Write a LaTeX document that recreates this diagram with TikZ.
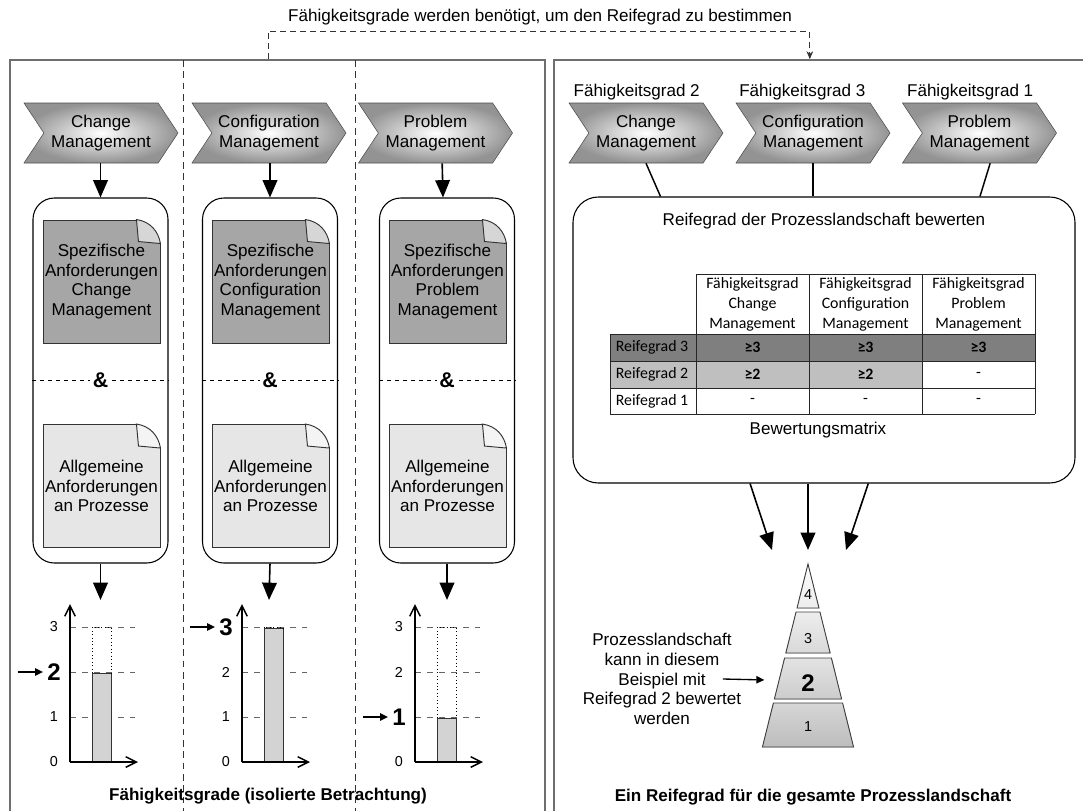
\documentclass[tikz,border=0pt]{standalone}
\usepackage{fontspec}
\setmainfont{Liberation Sans}
\newfontfamily\tabfont{Carlito}
\usepackage{tikz}
\usetikzlibrary{positioning,calc,arrows.meta,shapes.symbols}

\definecolor{framegray}{HTML}{6E6E6E}
\definecolor{docdark}{HTML}{A6A6A6}
\definecolor{doclight}{HTML}{E6E6E6}
\definecolor{folddark}{HTML}{D6D6D6}
\definecolor{foldlight}{HTML}{F4F4F4}
\definecolor{barfill}{HTML}{D3D3D3}
\definecolor{rowdark}{HTML}{7F7F7F}
\definecolor{rowlight}{HTML}{BFBFBF}

\tikzset{
  txt/.style={font=\fontsize{12.8}{14.8}\selectfont, align=center, inner sep=0pt},
  panel/.style={draw=framegray, line width=1.2pt},
  chevron/.style={txt, signal, signal to=east, signal from=west, signal pointer angle=113,
    draw=black!70, inner color=white, outer color=gray!85,
    minimum width=115.5pt, minimum height=45pt},
  container/.style={draw, line width=0.8pt, rounded corners=16pt,
    minimum width=101.25pt, minimum height=273.75pt},
  doc/.style={txt, draw=black!80, line width=0.7pt, minimum width=87.75pt, minimum height=92.25pt},
  amp/.style={fill=white, inner sep=2pt, font=\bfseries\fontsize{16}{16}\selectfont},
  flow/.style={line width=1.2pt, -{Triangle[length=13pt,width=11pt]}},
  flowsm/.style={line width=1pt, -{Triangle[length=6pt,width=5.5pt]}, shorten >=2pt},
  link/.style={line width=1.1pt},
  hint/.style={draw=black!80, line width=0.7pt, dash pattern=on 4.5pt off 3pt,
    -{Stealth[length=6pt,width=5pt]}},
  sepline/.style={draw=black!80, line width=0.7pt, dash pattern=on 5pt off 3.5pt},
  chartgrid/.style={draw=black!60, line width=0.6pt, dash pattern=on 4.5pt off 4.5pt},
  chartaxis/.style={line width=1.1pt, -{Straight Barb[length=8pt,width=8pt]}},
  ticklbl/.style={font=\fontsize{10.8}{12}\selectfont, inner sep=0pt},
  bignum/.style={font=\bfseries\fontsize{18}{18}\selectfont, inner sep=1pt},
  tab/.style={font=\tabfont\fontsize{11.9}{15}\selectfont, align=center, inner sep=0pt},
  tabbold/.style={tab, font=\tabfont\bfseries\fontsize{11.9}{15}\selectfont},
  tabline/.style={draw=black!85, line width=0.6pt},
  pyr/.style={draw=black!75, line width=0.7pt},
}

\begin{document}
\begin{tikzpicture}[x=0.75pt, y=-0.75pt]
\useasboundingbox (0,0) rectangle (1083,811);

% Rahmen
\node[panel, minimum width=401.25pt, minimum height=585pt] (lpanel) at (277.5,450) {};
\node[panel, minimum width=405.75pt, minimum height=585pt] (rpanel) at (824.5,450) {};
\draw[sepline] (183,60) -- (183,811);
\draw[sepline] (355,60) -- (355,811);

\node[txt] (toplbl) at (540,17) {Fähigkeitsgrade werden benötigt, um den Reifegrad zu bestimmen};
\draw[hint] ([xshift=-7pt]lpanel.north) -- ++(0,-28) -| ([xshift=-11pt]rpanel.north);

% linke Seite
\node[chevron] (cm1) at (101,133) {Change\\Management};
\node[chevron] (cm2) at (269,133) {Configuration\\Management};
\node[chevron] (cm3) at (435.5,133) {Problem\\Management};

\node[container] (con1) at (100.5,380.5) {};
\node[container] (con2) at (270,380.5) {};
\node[container] (con3) at (447,380.5) {};

\node[doc, fill=docdark] (sc1) at (101.5,281.5) {Spezifische\\Anforderungen\\Change\\Management};
\node[doc, fill=docdark] (sc2) at (270.5,281.5) {Spezifische\\Anforderungen\\Configuration\\Management};
\node[doc, fill=docdark] (sc3) at (447.5,281.5) {Spezifische\\Anforderungen\\Problem\\Management};
\node[doc, fill=doclight] (ac1) at (101.5,486) {Allgemeine\\Anforderungen\\an Prozesse};
\node[doc, fill=doclight] (ac2) at (270.5,486) {Allgemeine\\Anforderungen\\an Prozesse};
\node[doc, fill=doclight] (ac3) at (447.5,486) {Allgemeine\\Anforderungen\\an Prozesse};

% Eselsohren
\foreach \d/\fc in {sc1/folddark,sc2/folddark,sc3/folddark,ac1/foldlight,ac2/foldlight,ac3/foldlight}{
  \coordinate (tr) at (\d.north east);
  \fill[white] ($(tr)+(-25,-2)$) -- ($(tr)+(2,-2)$) -- ($(tr)+(2,25)$) -- cycle;
  \filldraw[fill=\fc, draw=black!80, line width=0.7pt] ($(tr)+(-24,0)$)
    .. controls ($(tr)+(-10,2)$) and ($(tr)+(-2,12)$) .. ($(tr)+(0,24)$)
    -- ($(tr)+(-22,22)$) -- cycle;
}

\foreach \c in {con1,con2,con3}{
  \draw[dashed, line width=0.6pt] (\c.west) -- (\c.east);
  \node[amp] (and-\c) at (\c.center) {\&};
}

\draw[flow] (con1.north |- cm1.south) -- (con1.north);
\draw[flow] (con2.north |- cm2.south) -- (con2.north);
\draw[flow] ([xshift=5pt]cm3.south) -- ([xshift=-3pt]con3.north);

\coordinate (ch1) at (100.5,600);
\coordinate (ch2) at (269,600);
\coordinate (ch3) at (447,600);
\draw[flow] (con1.south) -- (ch1);
\draw[flow] (con2.south) -- (ch2);
\draw[flow] (con3.south) -- (ch3);

% Diagramme
\foreach \ax/\v in {70/2,242/3,415/1}{
  \foreach \k in {1,2,3}
    \draw[chartgrid] (\ax,{762-45*\k}) -- ({\ax+65},{762-45*\k});
  \filldraw[fill=barfill, draw=black!80, line width=0.6pt] ({\ax+22},762) rectangle ({\ax+41},{763-45*\v});
  \draw[dotted, line width=0.6pt] ({\ax+22},{763-45*\v}) -- ({\ax+22},627) -- ({\ax+41},627) -- ({\ax+41},{763-45*\v});
  \draw[chartaxis] (\ax,762) -- (\ax,604);
  \draw[chartaxis] (\ax,762) -- ({\ax+68},762);
  \foreach \k in {0,1,2,3}{
    \ifnum\k=\v\relax\else
      \node[ticklbl] at ({\ax-16},{762-45*\k}) {\k};
    \fi
  }
  \node[bignum] (lv\ax) at ({\ax-16},{762-45*\v}) {\v};
  \draw[flowsm] ([xshift=-21pt]lv\ax.west) -- (lv\ax.west);
}

\node[txt, font=\bfseries\fontsize{12.8}{14.8}\selectfont] (lcap) at (268,796) {Fähigkeitsgrade (isolierte Betrachtung)};

% rechte Seite
\node[chevron] (rc1) at (646,133) {Change\\Management};
\node[chevron] (rc2) at (813,133) {Configuration\\Management};
\node[chevron] (rc3) at (979.5,133) {Problem\\Management};
\node[txt, above=2pt of rc1, xshift=-7pt] (fg1) {Fähigkeitsgrad 2};
\node[txt, above=2pt of rc2, xshift=-8pt] (fg2) {Fähigkeitsgrad 3};
\node[txt, above=2pt of rc3, xshift=-7pt] (fg3) {Fähigkeitsgrad 1};

\node[draw, line width=0.8pt, rounded corners=19pt, minimum width=376.5pt, minimum height=214.5pt] (rb) at (824,340) {};
\node[txt, below=12pt of rb.north] (rbtitle) {Reifegrad der Prozesslandschaft bewerten};

\draw[link] (rc1.south) -- ($(rb.north west)!0.175!(rb.north east)$);
\draw[link] (rc2.south) -- (rc2.south |- rb.north);
\draw[link] ([xshift=8pt]rc3.south) -- ($(rb.north west)!0.81!(rb.north east)$);

% Bewertungsmatrix
\fill[rowdark] (610,334) rectangle (1035,361);
\fill[rowlight] (610,361) rectangle (922,388);
\draw[tabline] (696,274) -- (1035,274);
\foreach \y in {334,361,388,414}
  \draw[tabline] (610,\y) -- (1035,\y);
\foreach \x in {696,809,922,1035}
  \draw[tabline] (\x,274) -- (\x,414);
\draw[tabline] (610,334) -- (610,414);

\node[tab] (h1) at (752.5,304) {Fähigkeitsgrad\\Change\\Management};
\node[tab] (h2) at (865.5,304) {Fähigkeitsgrad\\Configuration\\Management};
\node[tab] (h3) at (978.5,304) {Fähigkeitsgrad\\Problem\\Management};
\node[tab] (rg3) at (652,347.5) {Reifegrad 3};
\node[tab] (rg2) at (652,374.5) {Reifegrad 2};
\node[tab] (rg1) at (652,401) {Reifegrad 1};
\node[tabbold] at (752.5,347.5) {≥3};
\node[tabbold] at (865.5,347.5) {≥3};
\node[tabbold] at (978.5,347.5) {≥3};
\node[tabbold] at (752.5,374.5) {≥2};
\node[tabbold] at (865.5,374.5) {≥2};
\node[tab] at (978.5,374.5) {-};
\node[tab] at (752.5,401) {-};
\node[tab] at (865.5,401) {-};
\node[tab] at (978.5,401) {-};
\node[txt] (bm) at (818,430) {Bewertungsmatrix};

% Pyramide
\coordinate (pa1) at (772,550);
\coordinate (pa2) at (808,550);
\coordinate (pa3) at (846,550);
\draw[flow] ($(rb.south west)!0.353!(rb.south east)$) -- (pa1);
\draw[flow] (rb.south -| pa2) -- (pa2);
\draw[flow] ($(rb.south west)!0.588!(rb.south east)$) -- (pa3);

\foreach \t/\b/\ct/\cb in {564/608/gray!4/gray!14, 612/653/gray!14/gray!30, 658/699/gray!22/gray!40, 703/747/gray!32/gray!52}
  \filldraw[pyr, top color=\ct, bottom color=\cb] ({808-0.249*(\t-564)},\t) -- ({808+0.249*(\t-564)},\t)
    -- ({808+0.249*(\b-564)},\b) -- ({808-0.249*(\b-564)},\b) -- cycle;
\node[ticklbl] (p4) at (808,595) {4};
\node[ticklbl] (p3) at (808,639) {3};
\node[bignum] (p2) at (808,683) {2};
\node[ticklbl] (p1) at (808,727) {1};

\node[txt] (note) at (662,679) {Prozesslandschaft\\kann in diesem\\Beispiel mit\\Reifegrad 2 bewertet\\werden};
\coordinate (pin) at (767,680);
\draw[flowsm] ([xshift=-14pt]note.east) -- (pin);

\node[txt, font=\bfseries\fontsize{12.8}{14.8}\selectfont] (rcap) at (813,797) {Ein Reifegrad für die gesamte Prozesslandschaft};
\end{tikzpicture}
\end{document}
